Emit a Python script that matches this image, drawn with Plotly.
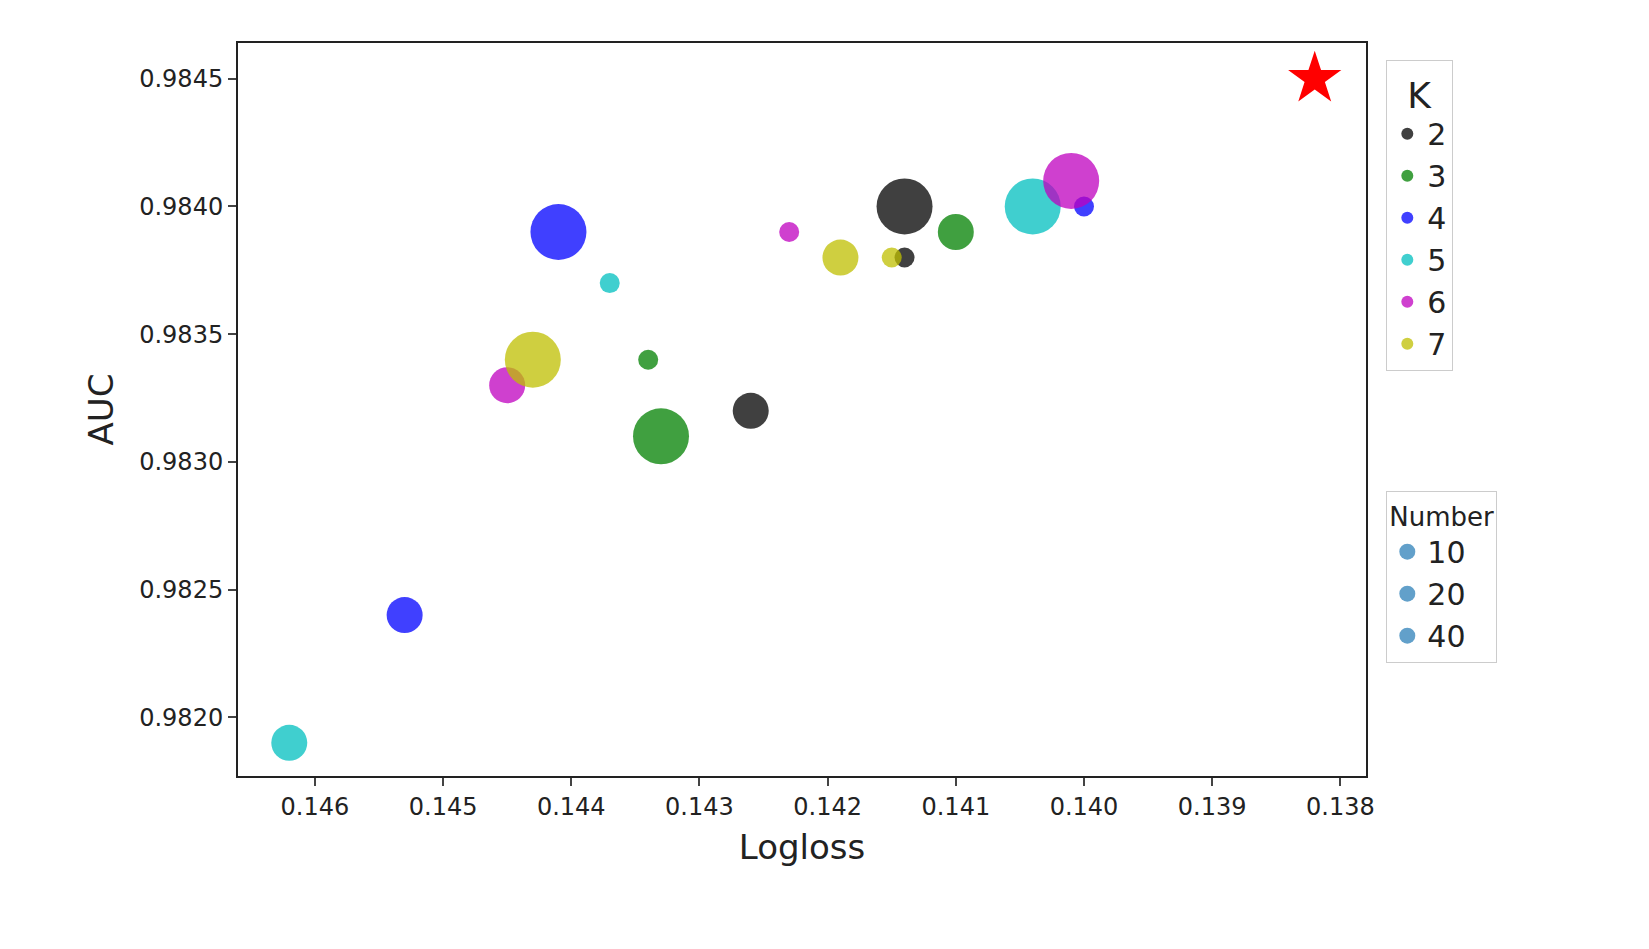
import plotly.graph_objects as go

logloss = [0.1462, 0.1453, 0.1445, 0.1443, 0.1441, 0.1437, 0.1434, 0.1433, 0.1426, 0.1423,
           0.1419, 0.1415, 0.1414, 0.1414, 0.1410, 0.1404, 0.1401, 0.1400]
auc = [0.9819, 0.9824, 0.9833, 0.9834, 0.9839, 0.9837, 0.9834, 0.9831, 0.9832, 0.9839,
       0.9838, 0.9838, 0.9838, 0.9840, 0.9839, 0.9840, 0.9841, 0.9840]
k_vals = [5, 4, 6, 7, 4, 5, 3, 3, 2, 6, 7, 7, 2, 2, 3, 5, 6, 4]
number = [20, 20, 20, 40, 40, 10, 10, 40, 20, 10, 20, 10, 10, 40, 20, 40, 40, 10]
best_logloss = [0.1382]
best_auc = [0.9845]
k_levels = [2, 3, 4, 5, 6, 7]
number_levels = [10, 20, 40]

k_colors = {2: "#000000", 3: "#008000", 4: "#0000ff", 5: "#00bfbf", 6: "#bf00bf", 7: "#bfbf00"}
size_px = {10: 20, 20: 36, 40: 56}

fig = go.Figure()
for k in k_levels:
    idx = [i for i, v in enumerate(k_vals) if v == k]
    fig.add_trace(go.Scatter(
        x=[logloss[i] for i in idx], y=[auc[i] for i in idx], mode="markers",
        marker=dict(color=k_colors[k], opacity=0.75, size=[size_px[number[i]] for i in idx],
                    line=dict(width=0)),
        name=str(k), legend="legend"))
for n in number_levels:
    fig.add_trace(go.Scatter(x=[None], y=[None], mode="markers", name=str(n),
                             marker=dict(color="#1f77b4", opacity=0.7, size=size_px[n] * 0.85),
                             legend="legend2"))
fig.add_trace(go.Scatter(x=best_logloss, y=best_auc, mode="markers", showlegend=False,
                         marker=dict(symbol="star", color="red", opacity=1, size=40, line=dict(width=0))))

font = dict(family="DejaVu Sans", size=24, color="#222")
fig.update_layout(
    width=1649, height=949, plot_bgcolor="white", paper_bgcolor="white",
    margin=dict(l=230, r=291, t=35, b=181), font=font,
    xaxis=dict(range=[0.1466, 0.1378], tickvals=[0.146, 0.145, 0.144, 0.143, 0.142, 0.141, 0.140, 0.139, 0.138],
               tickformat=".3f", showgrid=False, zeroline=False, showline=True, mirror=True,
               linecolor="#222", linewidth=2, ticks="outside", ticklen=8, tickwidth=2,
               title=dict(text="Logloss", font=dict(size=34))),
    yaxis=dict(range=[0.98177, 0.98464], tickvals=[0.9820, 0.9825, 0.9830, 0.9835, 0.9840, 0.9845],
               tickformat=".4f", showgrid=False, zeroline=False, showline=True, mirror=True,
               linecolor="#222", linewidth=2, ticks="outside", ticklen=8, tickwidth=2,
               title=dict(text="AUC", font=dict(size=34))),
    legend=dict(title=dict(text="K", side="top center"), x=1.018, y=0.977, xanchor="left", yanchor="top",
                bordercolor="#ccc", borderwidth=1, itemsizing="constant", font=dict(size=30)),
    legend2=dict(title=dict(text="Number", side="top", font=dict(size=26)), x=1.018, y=0.389,
                 xanchor="left", yanchor="top",
                 bordercolor="#ccc", borderwidth=1, itemsizing="trace", font=dict(size=30)),
)
fig.write_html("out.html")
